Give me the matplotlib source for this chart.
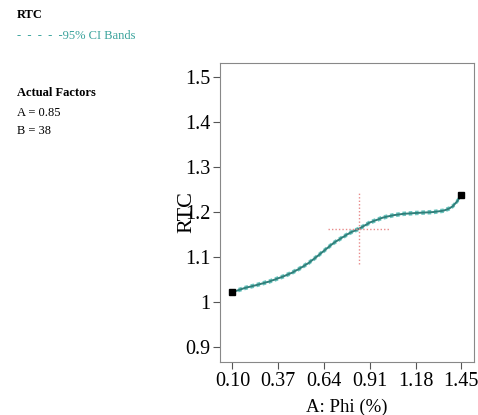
"""RTC response curve vs A: Phi (%)."""

import matplotlib
matplotlib.use("Agg")
from matplotlib import pyplot as plt

# Data ========================================================================

phi = [0.10, 0.17, 0.244, 0.32, 0.40, 0.45, 0.499, 0.55, 0.598, 0.65, 0.696,
       0.75, 0.794, 0.847, 0.912, 0.99, 1.05, 1.108, 1.187, 1.285, 1.345,
       1.38, 1.403, 1.43, 1.45]
rtc = [1.021, 1.030, 1.037, 1.045, 1.056, 1.064, 1.074, 1.086, 1.100, 1.116,
       1.130, 1.143, 1.153, 1.162, 1.176, 1.187, 1.192, 1.195, 1.197, 1.199,
       1.202, 1.207, 1.213, 1.225, 1.236]
ci_half = 0.003

end_x = [0.10, 1.45]
end_y = [1.021, 1.236]

cross_x = 0.847
cross_y = 1.162
cross_xspan = [0.662, 1.03]
cross_yspan = [1.083, 1.244]

xticks = [0.10, 0.37, 0.64, 0.91, 1.18, 1.45]
xticklabels = ["0.10", "0.37", "0.64", "0.91", "1.18", "1.45"]
yticks = [0.9, 1.0, 1.1, 1.2, 1.3, 1.4, 1.5]
yticklabels = ["0.9", "1", "1.1", "1.2", "1.3", "1.4", "1.5"]

# Plot ========================================================================

plt.rcParams['font.family'] = ['Liberation Serif', 'DejaVu Serif']

fig = plt.figure(figsize=(4.78, 4.15), dpi=100)
W, H = 478.0, 415.0
ax = fig.add_axes([220 / W, 1 - 362 / H, 254 / W, 299 / H])

teal = "#2f7f7a"
band = "#6cc5bf"

ax.plot(phi, [v + ci_half for v in rtc], ls=(0, (2, 1.5)), lw=1.3, color=band)
ax.plot(phi, [v - ci_half for v in rtc], ls=(0, (2, 1.5)), lw=1.3, color=band)
ax.plot(phi, rtc, lw=1.4, color=teal)
ax.plot(end_x, end_y, 's', color='black', ms=5)

ax.plot(cross_xspan, [cross_y, cross_y], ls=(0, (1, 1.5)), lw=1, color="#e88a8a")
ax.plot([cross_x, cross_x], cross_yspan, ls=(0, (1, 1.5)), lw=1, color="#e88a8a")

ax.set_xlim(0.027, 1.525)
ax.set_ylim(0.866, 1.530)
ax.set_xticks(xticks)
ax.set_xticklabels(xticklabels)
ax.set_yticks(yticks)
ax.set_yticklabels(yticklabels)
ax.tick_params(labelsize=14.5, length=5, color="#555555", pad=2)
for s in ax.spines.values():
    s.set_color("#888888")

fig.text(347 / W, 1 - 407 / H, "A: Phi (%)", ha='center', va='center', fontsize=13.5)
fig.text(187 / W, 1 - 212 / H, "RTC", ha='center', va='center', fontsize=16,
         rotation=90)

fig.text(17 / W, 1 - 15 / H, "RTC", fontsize=9, fontweight='bold', va='center')
fig.text(17 / W, 1 - 36 / H, "-  -  -  -  -95% CI Bands", fontsize=9,
         color="#3aa39c", va='center')
fig.text(17 / W, 1 - 93 / H, "Actual Factors", fontsize=9, fontweight='bold',
         va='center')
fig.text(17 / W, 1 - 113 / H, "A = 0.85", fontsize=9, va='center')
fig.text(17 / W, 1 - 131 / H, "B = 38", fontsize=9, va='center')

fig.savefig("out.png", dpi=100)
